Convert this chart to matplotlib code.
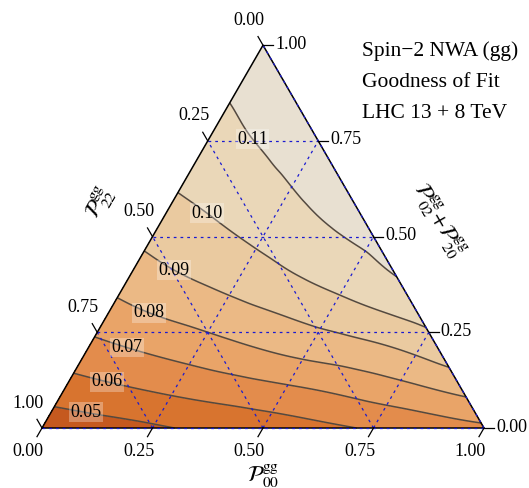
import numpy as np
import matplotlib
matplotlib.use("Agg")
import matplotlib.pyplot as plt
import matplotlib.tri as mtri

plt.rcParams['font.family'] = ['Liberation Serif', 'DejaVu Serif']
plt.rcParams['mathtext.fontset'] = 'stix'

# goodness of fit sampled on a ternary grid (step 0.1)
# one list per P00 value, entries go up the top axis (P02+P20 = 0, 0.1, ...)
p00_values = [0.0, 0.1, 0.2, 0.3, 0.4, 0.5, 0.6, 0.7, 0.8, 0.9, 1.0]
fit_columns = [
    [0.0438, 0.0551, 0.0661, 0.0762, 0.0851, 0.0927, 0.0992, 0.1037, 0.1079, 0.1115, 0.1130],
    [0.0454, 0.0579, 0.0693, 0.0802, 0.0893, 0.0964, 0.1025, 0.1076, 0.1115, 0.1125],
    [0.0473, 0.0606, 0.0725, 0.0836, 0.0929, 0.1002, 0.1064, 0.1110, 0.1125],
    [0.0500, 0.0632, 0.0759, 0.0872, 0.0968, 0.1042, 0.1105, 0.1125],
    [0.0523, 0.0656, 0.0795, 0.0907, 0.1011, 0.1090, 0.1125],
    [0.0548, 0.0681, 0.0828, 0.0945, 0.1055, 0.1115],
    [0.0572, 0.0710, 0.0854, 0.0987, 0.1102],
    [0.0597, 0.0745, 0.0890, 0.1032],
    [0.0620, 0.0782, 0.0944],
    [0.0650, 0.0826],
    [0.0680],
]
top_step = 0.1

levels = [0.05, 0.06, 0.07, 0.08, 0.09, 0.10, 0.11]
band_colors = ['#c5591f', '#d8742f', '#e38c4c', '#e9a468', '#ebb985',
               '#eacaa0', '#ead7b8', '#e8e0d1']
tick_values = [0.0, 0.25, 0.5, 0.75, 1.0]
grid_values = [0.25, 0.5, 0.75]
# where the contour labels sit, as (P00, P02+P20)
label_spots = [(0.078, 0.044), (0.083, 0.133), (0.085, 0.219), (0.089, 0.315),
               (0.093, 0.424), (0.092, 0.557), (0.096, 0.75)]
header = ['Spin\u22122 NWA (gg)', 'Goodness of Fit', 'LHC 13 + 8 TeV']

H = np.sqrt(3) / 2


def to_xy(b, t):
    return b + t / 2, t * H


xs, ys, zs = [], [], []
for b, col in zip(p00_values, fit_columns):
    for i, z in enumerate(col):
        x, y = to_xy(b, i * top_step)
        xs.append(x)
        ys.append(y)
        zs.append(z)
zs = np.array(zs)

fig = plt.figure(figsize=(5.29, 4.88), dpi=100)
ax = fig.add_axes([0, 0, 1, 1])
px = 1 / 442
ax.set_xlim(-42 * px, 487 * px)
ax.set_ylim(-60 * px, 428 * px)
ax.axis('off')

tri = mtri.Triangulation(xs, ys)
interp = mtri.CubicTriInterpolator(tri, zs, kind='min_E')
refiner = mtri.UniformTriRefiner(tri)
tri_f, z_f = refiner.refine_field(zs, triinterpolator=interp, subdiv=4)

ax.tricontourf(tri_f, z_f, levels=[0.0] + levels + [0.2], colors=band_colors)
cs = ax.tricontour(tri_f, z_f, levels=levels, colors='#54493f', linewidths=1.1)

spots = [to_xy(b, t) for b, t in label_spots]
texts = ax.clabel(cs, levels, manual=spots, inline=False, fmt='%.2f', fontsize=13)
for tx in texts:
    tx.set_rotation(0)
    tx.set_color('black')
    tx.set_bbox(dict(facecolor='white', alpha=0.3, edgecolor='none', pad=1.0))

# grid lines
gstyle = dict(color='#1a1ad0', lw=0.9, ls=(0, (2.2, 3.2)))
for v in grid_values:
    ax.plot(*zip(to_xy(0, v), to_xy(1 - v, v)), **gstyle)
    ax.plot(*zip(to_xy(v, 0), to_xy(v, 1 - v)), **gstyle)
    ax.plot(*zip(to_xy(1 - v, 0), to_xy(0, 1 - v)), **gstyle)

# frame
corners = [to_xy(0, 0), to_xy(1, 0), to_xy(0, 1), to_xy(0, 0)]
ax.plot(*zip(*corners), color='black', lw=1.1)
ax.plot(*zip(to_xy(0, 0), to_xy(1, 0)), **gstyle)
ax.plot(*zip(to_xy(1, 0), to_xy(0, 1)), **gstyle)

# ticks and tick labels
L = 10 * px
fs = 13
for v in tick_values:
    # bottom axis (P00)
    x, y = to_xy(v, 0)
    ax.plot([x, x - 0.5 * L], [y, y - H * L], color='black', lw=0.9)
    ax.text(x - 14 * px, y - 24 * px, f'{v:.2f}', fontsize=fs, ha='center', va='center')
    # left axis (P22)
    x, y = to_xy(0, 1 - v)
    ax.plot([x, x - 0.5 * L], [y, y + H * L], color='black', lw=0.9)
    ax.text(x - 14 * px, y + 25 * px, f'{v:.2f}', fontsize=fs, ha='center', va='center')
    # right axis (P02+P20)
    x, y = to_xy(1 - v, v)
    ax.plot([x, x + L], [y, y], color='black', lw=0.9)
    ax.text(x + 12 * px, y + 1 * px, f'{v:.2f}', fontsize=fs, ha='left', va='center')

# axis titles
ax.text(to_xy(0.5, 0)[0], -48 * px, r'$\mathcal{P}^{\mathrm{gg}}_{00}$', fontsize=16,
        ha='center', va='center')
ax.text(58 * px, 225 * px, r'$\mathcal{P}^{\mathrm{gg}}_{22}$', fontsize=16,
        ha='center', va='center', rotation=60)
ax.text(396 * px, 208 * px,
        r'$\mathcal{P}^{\mathrm{gg}}_{02}\!+\!\mathcal{P}^{\mathrm{gg}}_{20}$',
        fontsize=16, ha='center', va='center', rotation=-60)

# header text
for i, line in enumerate(header):
    ax.text(320 * px, (372 - 31 * i) * px, line, fontsize=15.5, ha='left', va='baseline')

fig.savefig('out.png', dpi=100)
